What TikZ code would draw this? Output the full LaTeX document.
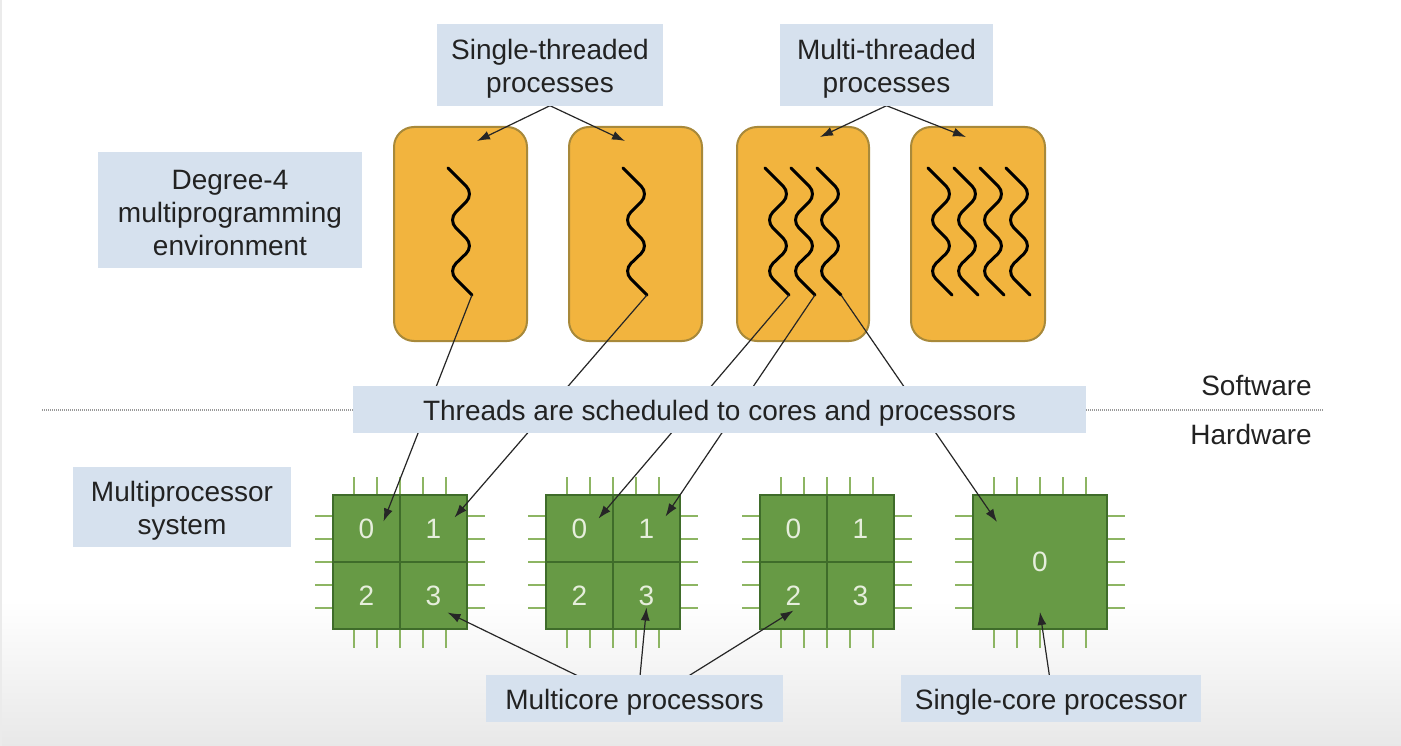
\documentclass[tikz,border=0pt]{standalone}
\usepackage{fontspec}
\setmainfont{Liberation Sans}
\usetikzlibrary{arrows.meta,calc}
\pgfdeclarelayer{front}
\pgfsetlayers{main,front}
\definecolor{lblue}{HTML}{D6E1EE}
\definecolor{procfill}{HTML}{F2B43E}
\definecolor{procedge}{HTML}{A8893A}
\definecolor{chipfill}{HTML}{679A45}
\definecolor{chipedge}{HTML}{3F6C2A}
\definecolor{pincol}{HTML}{8DB563}
\definecolor{numcol}{HTML}{E6EEDC}
\definecolor{txt}{HTML}{222222}
\newcommand\mythread[2]{\draw[threadline] (#1,168) -- (#1+26,194) -- (#1,220) -- (#1+26,246) -- (#1,271) -- (#1+24,295) coordinate (#2);}
\begin{document}
\begin{tikzpicture}[x=1pt,y=-1pt,
  lbl/.style={preaction={fill=lblue, transform canvas={yshift=3.5pt}}, text=txt, align=center, font=\fontsize{28}{33}\selectfont, inner sep=0pt},
  proc/.style={draw=procedge, fill=procfill, line width=2pt, rounded corners=20pt},
  threadline/.style={line width=3pt, black, rounded corners=11pt, line cap=round},
  pin/.style={draw=pincol, line width=2.5pt},
  core/.style={draw=chipedge, fill=chipfill, line width=2pt, minimum size=67pt, inner sep=0pt, text=numcol, font=\fontsize{28}{33}\selectfont},
  conn/.style={draw=black!85, line width=1.2pt, -{Latex[length=13pt,width=9pt]}},
  plain/.style={text=txt, font=\fontsize{28}{33}\selectfont, inner sep=0pt}]
\useasboundingbox (0,0) rectangle (1401,746);
\fill[white] (0,0) rectangle (1401,746);
\shade[top color=white, bottom color=black!9] (0,600) rectangle (1401,746);
\fill[black!8] (0,0) rectangle (2,746);

% divider line
\draw[gray!80, line width=1.5pt, dash pattern=on 1pt off 1pt] (42,410) -- (1323,410);
\node[plain, anchor=east] (sw) at (1312,386) {Software};
\node[plain, anchor=east] (hw) at (1312,434) {Hardware};

% process boxes
\draw[proc] (394,127) rectangle (527,341);
\draw[proc] (569,127) rectangle (702,341);
\draw[proc] (737,127) rectangle (869,341);
\draw[proc] (911,127) rectangle (1045,341);
\coordinate (p1) at (477,141);
\coordinate (p2) at (625,141);
\coordinate (p3) at (820,137);
\coordinate (p4) at (966,137);

% threads
\mythread{448}{e1}
\mythread{623}{e2}
\mythread{765}{e3a}
\mythread{791}{e3b}
\mythread{817}{e3c}
\mythread{928}{e4a}
\mythread{954}{e4b}
\mythread{980}{e4c}
\mythread{1006}{e4d}

% chip pins
\foreach \L in {333,546,760,973} {
  \foreach \d in {21,44,67,90,113} {
    \draw[pin] (\L+\d,477) -- (\L+\d,495);
    \draw[pin] (\L+\d,629) -- (\L+\d,648);
    \draw[pin] (\L-18,495+\d) -- (\L,495+\d);
    \draw[pin] (\L+134,495+\d) -- (\L+152,495+\d);
  }
}
% chip cores
\foreach \n/\L in {1/333,2/546,3/760} {
  \node[core] (c\n0) at (\L+33.5,528.5) {0};
  \node[core] (c\n1) at (\L+100.5,528.5) {1};
  \node[core] (c\n2) at (\L+33.5,595.5) {2};
  \node[core] (c\n3) at (\L+100.5,595.5) {3};
}
\node[core, minimum size=134pt] (c40) at (1040,562) {0};

% labels (front layer)
\begin{pgfonlayer}{front}
\node[lbl, minimum width=226pt, minimum height=82pt] (st) at (550,68.5) {Single-threaded\\processes};
\node[lbl, minimum width=213pt, minimum height=82pt] (mt) at (886.5,68.5) {Multi-threaded\\processes};
\node[lbl, minimum width=264pt, minimum height=116pt] (deg) at (230,213.5) {Degree-4\\multiprogramming\\environment};
\node[lbl, minimum width=733pt, minimum height=47pt] (thr) at (719.5,413) {Threads are scheduled to cores and processors};
\node[lbl, minimum width=218pt, minimum height=80pt] (mps) at (182,510.5) {Multiprocessor\\system};
\node[lbl, minimum width=297pt, minimum height=47pt] (mc) at (634.5,702) {Multicore processors};
\node[lbl, minimum width=300pt, minimum height=47pt] (sc) at (1051,702) {Single-core processor};
\end{pgfonlayer}

% connectors
\draw[conn] ($(st.south)+(0,-4)$) -- (p1);
\draw[conn] ($(st.south)+(0,-4)$) -- (p2);
\draw[conn] ($(mt.south)+(0,-4)$) -- (p3);
\draw[conn] ($(mt.south)+(0,-4)$) -- (p4);
\draw[conn] (e1) -- ($(c10.center)+(17,-7)$);
\draw[conn] (e2) -- ($(c11.center)+(21,-11)$);
\draw[conn] (e3a) -- ($(c20.center)+(19,-10)$);
\draw[conn] (e3b) -- ($(c21.center)+(19,-12)$);
\draw[conn] (e3c) -- ($(c40.center)+(-43,-40)$);
\draw[conn] ($(mc.north west)+(97,0)$) -- ($(c13.center)+(14,17)$);
\draw[conn] ($(mc.north west)+(154,0)$) -- ($(c23.center)+(0,12)$);
\draw[conn] ($(mc.north west)+(199,0)$) -- ($(c32.center)+(0,15)$);
\draw[conn] ($(sc.north west)+(149,0)$) -- ($(c40.center)+(0,50)$);
\end{tikzpicture}
\end{document}
